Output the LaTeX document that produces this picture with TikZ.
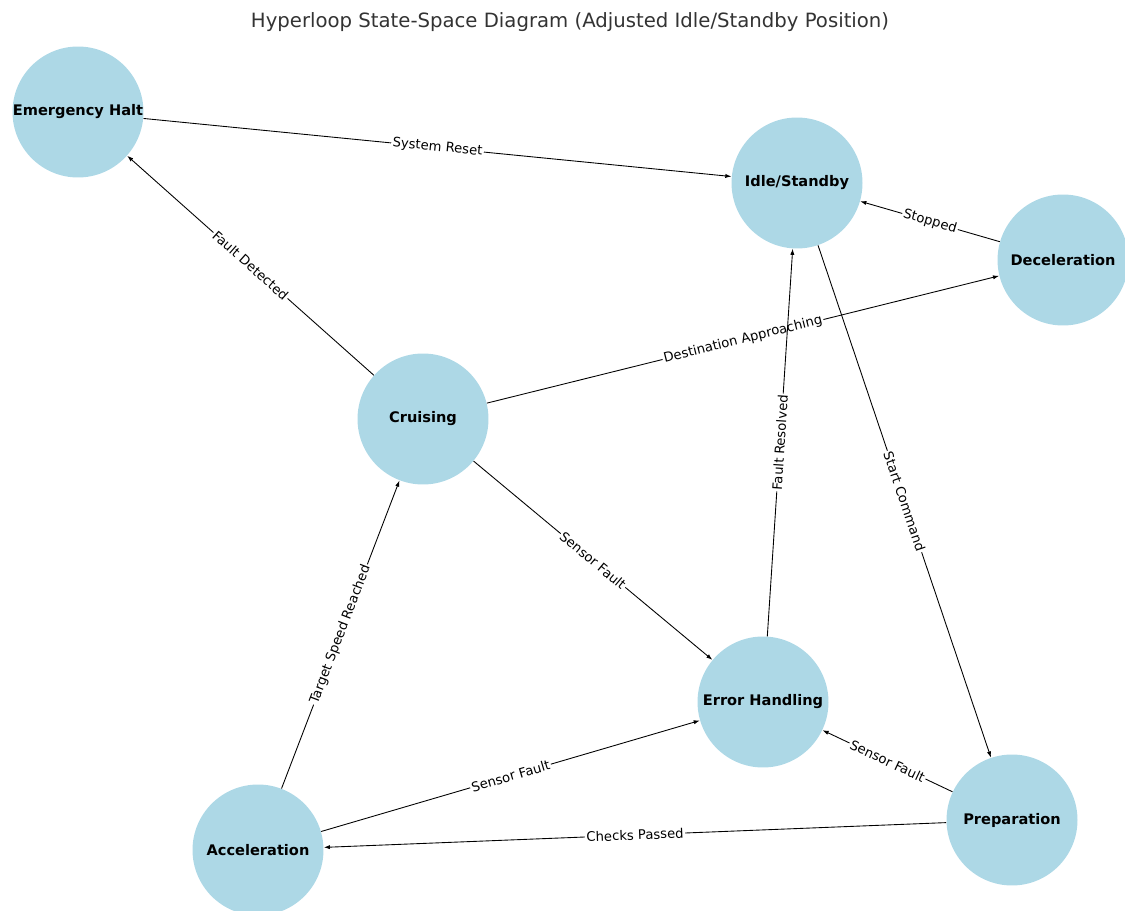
\documentclass[tikz,border=0pt]{standalone}
\usepackage{fontspec}
\setmainfont{DejaVu Sans}
\usetikzlibrary{arrows.meta}
\definecolor{lightblue}{HTML}{ADD8E6}
\begin{document}
\begin{tikzpicture}[x=0.02cm,y=-0.02cm,
    state/.style={circle,fill=lightblue,minimum size=2.62cm,inner sep=0pt,
      font=\fontsize{8.3}{10}\selectfont\bfseries},
    trans/.style={-{Latex[length=3.5pt,width=2.4pt]},line width=0.5pt},
    lbl/.style={fill=white,inner sep=0.8pt,sloped,
      font=\fontsize{7.5}{9}\selectfont}]
  \useasboundingbox (0,0) rectangle (1125,911);
  \node[font=\fontsize{11.2}{13}\selectfont,text=black!80] (title) at (570,22)
    {Hyperloop State-Space Diagram (Adjusted Idle/Standby Position)};
  \draw
    (78,112) node[state] (halt){Emergency Halt}
    (797,183) node[state] (idle){Idle/Standby}
    (1063,260) node[state] (decel){Deceleration}
    (423,419) node[state] (cruise){Cruising}
    (763,702) node[state] (error){Error Handling}
    (1012,820) node[state] (prep){Preparation}
    (258,850) node[state] (accel){Acceleration};
  \begin{scope}[trans]
    \draw (halt) to node[lbl]{System Reset} (idle);
    \draw (decel) to node[lbl]{Stopped} (idle);
    \draw (cruise) to node[lbl]{Destination Approaching} (decel);
    \draw (cruise) to node[lbl]{Fault Detected} (halt);
    \draw (cruise) to node[lbl]{Sensor Fault} (error);
    \draw (error) to node[lbl]{Fault Resolved} (idle);
    \draw (idle) to node[lbl]{Start Command} (prep);
    \draw (prep) to node[lbl]{Sensor Fault} (error);
    \draw (prep) to node[lbl]{Checks Passed} (accel);
    \draw (accel) to node[lbl]{Sensor Fault} (error);
    \draw (accel) to node[lbl]{Target Speed Reached} (cruise);
  \end{scope}
\end{tikzpicture}
\end{document}
